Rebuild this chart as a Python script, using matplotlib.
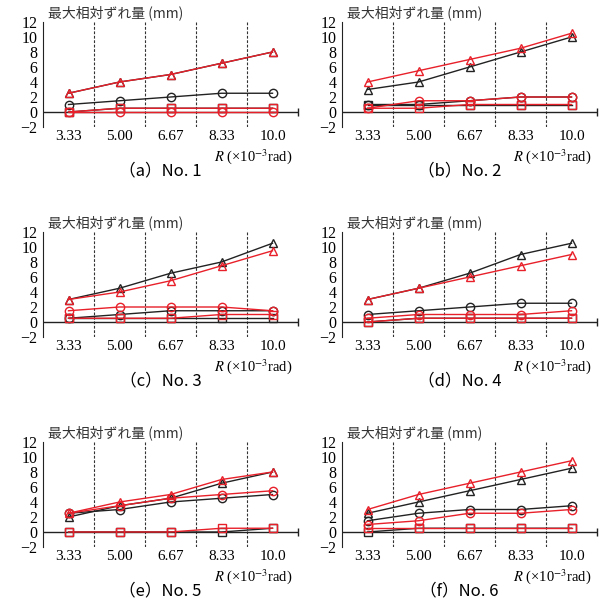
import numpy as np
import matplotlib
matplotlib.use("Agg")
import matplotlib.pyplot as plt

plt.rcParams['font.family'] = ['Liberation Serif', 'Noto Sans CJK JP']
plt.rcParams['mathtext.fontset'] = 'stix'

r_labels = ['3.33', '5.00', '6.67', '8.33', '10.0']
captions = ['（a）No. 1', '（b）No. 2', '（c）No. 3', '（d）No. 4', '（e）No. 5', '（f）No. 6']

# series per panel (a)..(f)
black_tri = [[2.5, 4, 5, 6.5, 8], [3, 4, 6, 8, 10], [3, 4.5, 6.5, 8, 10.5],
             [3, 4.5, 6.5, 9, 10.5], [2, 3.5, 4.5, 6.5, 8], [2.5, 4, 5.5, 7, 8.5]]
black_cir = [[1, 1.5, 2, 2.5, 2.5], [1, 1, 1.5, 2, 2], [0.5, 1, 1.5, 1.5, 1.5],
             [1, 1.5, 2, 2.5, 2.5], [2.5, 3, 4, 4.5, 5], [1.5, 2.5, 3, 3, 3.5]]
black_sq = [[0, 0.5, 0.5, 0.5, 0.5], [1, 1, 1, 1, 1], [0.5, 0.5, 0.5, 0.5, 0.5],
            [0, 0.5, 0.5, 0.5, 0.5], [0, 0, 0, 0, 0.5], [0, 0.5, 0.5, 0.5, 0.5]]
red_tri = [[2.5, 4, 5, 6.5, 8], [4, 5.5, 7, 8.5, 10.5], [3, 4, 5.5, 7.5, 9.5],
           [3, 4.5, 6, 7.5, 9], [2.5, 4, 5, 7, 8], [3, 5, 6.5, 8, 9.5]]
red_cir = [[0, 0, 0, 0, 0], [0.5, 1.5, 1.5, 2, 2], [1.5, 2, 2, 2, 1.5],
           [0.5, 1, 1, 1, 1.5], [2.5, 3.5, 4.5, 5, 5.5], [1, 1.5, 2.5, 2.5, 3]]
red_sq = [[0, 0.5, 0.5, 0.5, 0.5], [0.5, 0.5, 1, 1, 1], [0.5, 0.5, 0.5, 1, 1],
          [0, 0.5, 0.5, 0.5, 0.5], [0, 0, 0, 0.5, 0.5], [0.5, 0.5, 0.5, 0.5, 0.5]]

RED = '#e8202a'
BLK = '#222222'

fig = plt.figure(figsize=(6.04, 6.0), dpi=100)
W, H = 604, 600
lefts = [43, 342]
tops = [22, 232, 442]
aw, ah = 255, 105

x = np.arange(len(r_labels))
for i in range(6):
    row, col = i // 2, i % 2
    l, t = lefts[col], tops[row]
    ax = fig.add_axes([l / W, 1 - (t + ah) / H, aw / W, ah / H])
    ax.set_xlim(-0.5, 4.5)
    ax.set_ylim(-2, 12)
    for xv in x[:-1] + 0.5:
        ax.axvline(xv, color='#333333', lw=0.8, ls=(0, (2.5, 1.5)))
    ax.axhline(0, color=BLK, lw=1.0)
    ax.plot([4.5], [0], marker='|', color=BLK, ms=6, clip_on=False)
    kw = dict(mfc='none', ms=6, lw=1.0, mew=1.0)
    ax.plot(x, black_tri[i], '-^', color=BLK, **kw)
    ax.plot(x, black_cir[i], '-o', color=BLK, **kw)
    ax.plot(x, black_sq[i], '-s', color=BLK, **kw)
    ax.plot(x, red_tri[i], '-^', color=RED, **kw)
    ax.plot(x, red_cir[i], '-o', color=RED, **kw)
    ax.plot(x, red_sq[i], '-s', color=RED, **kw)
    for s in ['top', 'right', 'bottom']:
        ax.spines[s].set_visible(False)
    ax.spines['left'].set_color(BLK)
    ax.set_yticks(range(-2, 13, 2))
    ax.set_xticks(x)
    ax.set_xticklabels(r_labels, fontsize=11)
    ax.tick_params(axis='y', length=0, pad=4, labelsize=11.5)
    ax.tick_params(axis='x', length=0, pad=2)
    fig.text((l + 5) / W, 1 - (t - 9) / H, '最大相対ずれ量 (mm)',
             fontsize=10, ha='left', va='center', color='#333333',
             family=['Noto Sans CJK JP'])
    fig.text((l + aw - 5) / W, 1 - (t + ah + 30) / H,
             r'$R$ (×10$^{-3}$rad)', fontsize=10.5, ha='right', va='center')
    fig.text((l + aw / 2 - 10) / W, 1 - (t + ah + 44) / H, captions[i],
             fontsize=12, ha='center', va='center',
             family=['Noto Sans CJK JP'])

fig.savefig('out.png', dpi=100)
